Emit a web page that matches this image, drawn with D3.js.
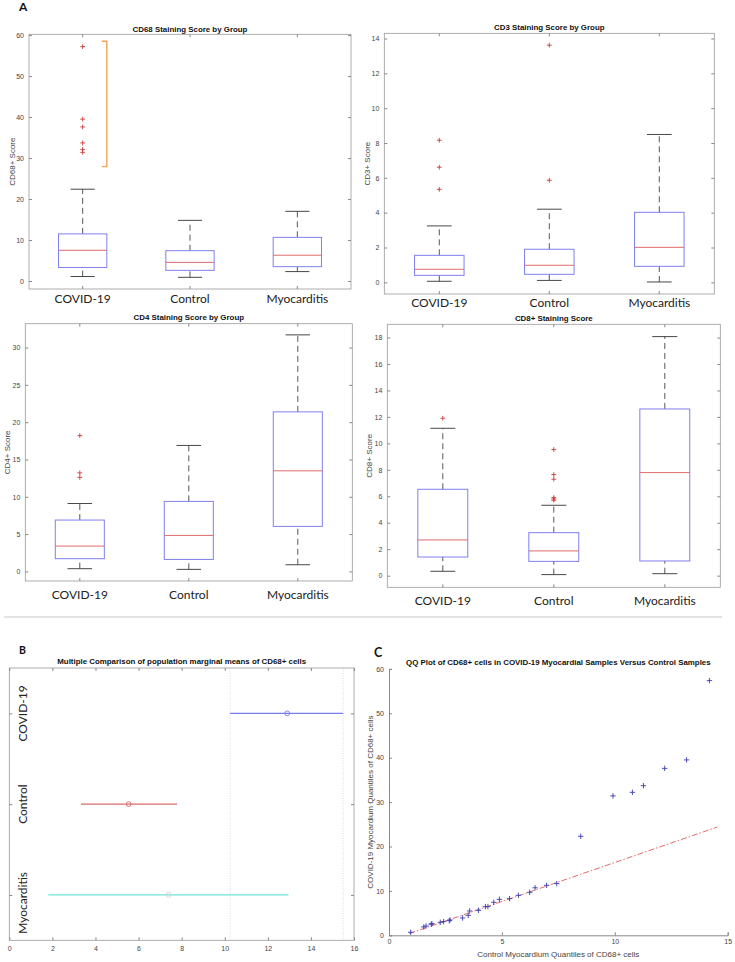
<!DOCTYPE html>
<html>
<head>
<meta charset="utf-8">
<script src="https://cdn.jsdelivr.net/npm/d3@7.9.0/dist/d3.min.js"></script>
<style>
    body { margin: 0; background: #fff; }
    svg { display: block; font-family: "Liberation Sans", Arial, sans-serif; }
    .tick text { fill: #444; font-size: 7px; }
    .tick line, .domain { stroke: #888; }
    .grp .tick text { font-family: Lato, sans-serif; font-size: 12px; fill: #222; }
    .title { font-size: 7.9px; font-weight: bold; fill: #111; }
    .ylab { font-size: 8px; fill: #444; }
    .panel-letter { font-family: Lato, sans-serif; font-weight: bold; fill: #111; }
</style>
</head>
<body>
<svg id="fig" width="735" height="962"></svg>
<script>
const groups = ['COVID-19', 'Control', 'Myocarditis'];

// box stats per group: [lower whisker, q1, median, q3, upper whisker]
const cd68Stats = [[1.1, 3.3, 7.5, 11.5, 22.4], [0.9, 2.6, 4.55, 7.4, 14.8], [2.3, 3.5, 6.3, 10.65, 17.0]];
const cd68Outliers = [[57.2, 39.5, 37.6, 33.7, 32.1, 31.4], [], []];
const cd68Bracket = [27.9, 58.5];

const cd3Stats = [[0.06, 0.4, 0.75, 1.55, 3.24], [0.11, 0.46, 0.98, 1.9, 4.2], [0.02, 0.92, 2.01, 4.02, 8.49]];
const cd3Outliers = [[8.16, 6.61, 5.34], [13.62, 5.86], []];

const cd4Stats = [[0.36, 1.7, 3.39, 6.88, 9.1], [0.27, 1.6, 4.82, 9.38, 16.88], [0.89, 6.03, 13.48, 21.38, 31.7]];
const cd4Outliers = [[18.2, 13.2, 12.6], [], []];

const cd8Stats = [[0.33, 1.41, 2.7, 6.53, 11.14], [0.08, 1.08, 1.87, 3.25, 5.32], [0.15, 1.11, 7.79, 12.6, 18.07]];
const cd8Outliers = [[11.9], [9.53, 7.64, 7.29, 5.9, 5.8, 5.7], []];

// multiple comparison intervals: [low, mean, high], y position 3..1
const mcIntervals = [[10.25, 12.9, 15.5], [3.33, 5.54, 7.79], [1.81, 7.4, 12.96]];
const mcLimits = [10.25, 15.5];
const mcColors = ['#7b7bf0', '#d86a6a', '#6fe3da'];

// QQ plot quantiles
const qqControl = [0.96, 1.54, 1.64, 1.87, 1.9, 2.27, 2.42, 2.67, 2.7, 3.26, 3.51, 3.57, 3.96, 4.27, 4.38, 4.64, 4.89, 5.34, 5.73, 6.23, 6.47, 6.98, 7.43, 8.49, 9.92, 10.78, 11.27, 12.21, 13.18, 14.19];
const qqCovid = [0.68, 1.88, 2.1, 2.48, 2.63, 2.93, 3.08, 3.3, 3.45, 3.9, 4.5, 5.48, 5.63, 6.46, 6.46, 7.43, 8.1, 8.26, 9.0, 9.68, 10.7, 11.26, 11.64, 22.3, 31.4, 32.2, 33.7, 37.6, 39.5, 57.36];
const qqLineX = [0.9, 14.55];
const qqLineY = [0.4, 24.4];

const svg = d3.select('#fig');

function frameAxes(g, x, y, box, xTicks) {
    g.append('rect')
        .attr('x', box.left).attr('y', box.top)
        .attr('width', box.right - box.left).attr('height', box.bottom - box.top)
        .attr('fill', 'none').attr('stroke', '#999').attr('stroke-width', 0.8);

    // ticks point inward on all four sides, MATLAB style
    g.append('g')
        .attr('transform', `translate(${box.left},0)`)
        .call(d3.axisLeft(y).tickValues(xTicks.y).tickSize(-3).tickSizeOuter(0).tickPadding(5))
        .call((s) => s.select('.domain').remove());
    g.append('g')
        .attr('transform', `translate(${box.right},0)`)
        .call(d3.axisRight(y).tickValues(xTicks.y).tickSize(-3).tickSizeOuter(0).tickFormat(''))
        .call((s) => s.select('.domain').remove());
    g.append('g')
        .attr('transform', `translate(0,${box.top})`)
        .call(d3.axisTop(x).tickSize(-3).tickSizeOuter(0).tickFormat('').tickValues(xTicks.x))
        .call((s) => s.select('.domain').remove());
}

function boxPanel(cfg) {
    const { box, yDomain, yTicks, stats, outliers, title, yLabel } = cfg;
    const g = svg.append('g');

    const x = d3.scaleBand().domain(groups).range([box.left, box.right]);
    const y = d3.scaleLinear().domain(yDomain).range([box.bottom, box.top]);
    const bw = x.bandwidth() * 0.45;
    const cx = (d) => x(d) + x.bandwidth() / 2;

    frameAxes(g, x, y, box, { y: yTicks, x: groups });

    // group labels along the bottom
    g.append('g')
        .attr('class', 'grp')
        .attr('transform', `translate(0,${box.bottom})`)
        .call(d3.axisBottom(x).tickSize(-3).tickSizeOuter(0).tickPadding(cfg.labelGap))
        .call((s) => s.select('.domain').remove());

    const rows = groups.map((name, i) => ({ name, s: stats[i], out: outliers[i] }));
    const b = g.append('g').selectAll('g').data(rows).join('g');

    // dashed whiskers
    b.selectAll('line.whisker')
        .data((d) => [[d.name, d.s[3], d.s[4]], [d.name, d.s[0], d.s[1]]])
        .join('line')
        .attr('class', 'whisker')
        .attr('x1', (d) => cx(d[0])).attr('x2', (d) => cx(d[0]))
        .attr('y1', (d) => y(d[1])).attr('y2', (d) => y(d[2]))
        .attr('stroke', '#444').attr('stroke-width', 0.9)
        .attr('stroke-dasharray', '6,4');

    // caps
    b.selectAll('line.cap')
        .data((d) => [[d.name, d.s[0]], [d.name, d.s[4]]])
        .join('line')
        .attr('class', 'cap')
        .attr('x1', (d) => cx(d[0]) - bw / 4).attr('x2', (d) => cx(d[0]) + bw / 4)
        .attr('y1', (d) => y(d[1])).attr('y2', (d) => y(d[1]))
        .attr('stroke', '#333').attr('stroke-width', 0.9);

    b.append('rect')
        .attr('x', (d) => cx(d.name) - bw / 2)
        .attr('y', (d) => y(d.s[3]))
        .attr('width', bw)
        .attr('height', (d) => y(d.s[1]) - y(d.s[3]))
        .attr('fill', 'none').attr('stroke', '#7f7ff0').attr('stroke-width', 1);

    b.append('line')
        .attr('x1', (d) => cx(d.name) - bw / 2).attr('x2', (d) => cx(d.name) + bw / 2)
        .attr('y1', (d) => y(d.s[2])).attr('y2', (d) => y(d.s[2]))
        .attr('stroke', '#e06a6a').attr('stroke-width', 1);

    b.selectAll('path.out')
        .data((d) => d.out.map((v) => [d.name, v]))
        .join('path')
        .attr('class', 'out')
        .attr('transform', (d) => `translate(${cx(d[0])},${y(d[1])})`)
        .attr('d', 'M-2.4,0H2.4M0,-2.4V2.4')
        .attr('stroke', '#cc3b3b').attr('stroke-width', 0.9);

    g.append('text')
        .attr('class', 'title')
        .attr('x', (box.left + box.right) / 2).attr('y', cfg.titleY)
        .attr('text-anchor', 'middle')
        .text(title);

    g.append('text')
        .attr('class', 'ylab')
        .attr('transform', `translate(${cfg.yLabelX},${(box.top + box.bottom) / 2}) rotate(-90)`)
        .attr('text-anchor', 'middle')
        .attr('dy', '0.35em')
        .text(yLabel);

    return { g, x, y, bw, cx };
}

// Panel A
svg.append('text').attr('class', 'panel-letter').attr('x', 19).attr('y', 11).style('font-size', '12px').text('A');

const p68 = boxPanel({
    box: { left: 29, right: 351, top: 34.3, bottom: 289 },
    yDomain: [-1.95, 60.2], yTicks: d3.range(0, 61, 10),
    stats: cd68Stats, outliers: cd68Outliers,
    title: 'CD68 Staining Score by Group', titleY: 31.5,
    yLabel: 'CD68+ Score', yLabelX: 12, labelGap: 5.8,
});

// orange bracket around the COVID-19 outliers
const bx = p68.cx('COVID-19') + p68.bw / 2;
p68.g.append('path')
    .attr('d', `M${bx - 5},${p68.y(cd68Bracket[1])}H${bx}V${p68.y(cd68Bracket[0])}H${bx - 5}`)
    .attr('fill', 'none').attr('stroke', '#f2a25a').attr('stroke-width', 1.4);

boxPanel({
    box: { left: 384.3, right: 714.3, top: 33.3, bottom: 294 },
    yDomain: [-0.67, 14.3], yTicks: d3.range(0, 15, 2),
    stats: cd3Stats, outliers: cd3Outliers,
    title: 'CD3 Staining Score by Group', titleY: 30.2,
    yLabel: 'CD3+ Score', yLabelX: 367, labelGap: 4.8,
});

boxPanel({
    box: { left: 25.3, right: 352.3, top: 323.7, bottom: 581 },
    yDomain: [-1.29, 33.2], yTicks: d3.range(0, 31, 5),
    stats: cd4Stats, outliers: cd4Outliers,
    title: 'CD4 Staining Score by Group', titleY: 319.8,
    yLabel: 'CD4+ Score', yLabelX: 7.5, labelGap: 9.8,
});

boxPanel({
    box: { left: 387.3, right: 720.3, top: 324.3, bottom: 587.3 },
    yDomain: [-0.88, 19.0], yTicks: d3.range(0, 19, 2),
    stats: cd8Stats, outliers: cd8Outliers,
    title: 'CD8+ Staining Score', titleY: 321.2,
    yLabel: 'CD8+ Score', yLabelX: 369, labelGap: 9.2,
});

// separator
svg.append('line')
    .attr('x1', 4).attr('x2', 722).attr('y1', 617).attr('y2', 617)
    .attr('stroke', '#c8c8c8').attr('stroke-width', 1);

// Panel B: multiple comparison
function renderComparison() {
    const box = { left: 9.3, right: 354, top: 668, bottom: 940.3 };
    const g = svg.append('g');
    const x = d3.scaleLinear().domain([0, 16]).range([box.left, box.right]);
    const y = d3.scaleLinear().domain([0.5, 3.5]).range([box.bottom, box.top]);
    const xt = d3.range(0, 17, 2);

    svg.append('text').attr('class', 'panel-letter').attr('x', 19).attr('y', 654).style('font-size', '10.5px').text('B');

    // limits of the selected group's interval
    g.selectAll('line.lim')
        .data(mcLimits)
        .join('line')
        .attr('class', 'lim')
        .attr('x1', (d) => x(d)).attr('x2', (d) => x(d))
        .attr('y1', box.top).attr('y2', box.bottom)
        .attr('stroke', '#cfd3e6').attr('stroke-width', 0.8)
        .attr('stroke-dasharray', '1,1.5');

    g.append('rect')
        .attr('x', box.left).attr('y', box.top)
        .attr('width', box.right - box.left).attr('height', box.bottom - box.top)
        .attr('fill', 'none').attr('stroke', '#999').attr('stroke-width', 0.8);

    g.append('g')
        .attr('transform', `translate(0,${box.bottom})`)
        .call(d3.axisBottom(x).tickValues(xt).tickFormat(d3.format('d')).tickSize(-3).tickSizeOuter(0).tickPadding(5.8))
        .call((s) => s.select('.domain').remove());
    g.append('g')
        .attr('transform', `translate(0,${box.top})`)
        .call(d3.axisTop(x).tickValues(xt).tickFormat('').tickSize(-3).tickSizeOuter(0))
        .call((s) => s.select('.domain').remove());
    g.append('g')
        .attr('transform', `translate(${box.left},0)`)
        .call(d3.axisLeft(y).tickValues([1, 2, 3]).tickFormat('').tickSize(-3).tickSizeOuter(0))
        .call((s) => s.select('.domain').remove());
    g.append('g')
        .attr('transform', `translate(${box.right},0)`)
        .call(d3.axisRight(y).tickValues([1, 2, 3]).tickFormat('').tickSize(-3).tickSizeOuter(0))
        .call((s) => s.select('.domain').remove());

    const rows = mcIntervals.map((d, i) => ({ name: groups[i], pos: 3 - i, lo: d[0], mean: d[1], hi: d[2], color: mcColors[i] }));

    g.selectAll('line.ci')
        .data(rows)
        .join('line')
        .attr('class', 'ci')
        .attr('x1', (d) => x(d.lo)).attr('x2', (d) => x(d.hi))
        .attr('y1', (d) => y(d.pos)).attr('y2', (d) => y(d.pos))
        .attr('stroke', (d) => d.color).attr('stroke-width', 1.2);

    g.selectAll('circle')
        .data(rows)
        .join('circle')
        .attr('cx', (d) => x(d.mean)).attr('cy', (d) => y(d.pos))
        .attr('r', 2.4)
        .attr('fill', 'none')
        .attr('stroke', (d, i) => (i === 2 ? '#c9d6d6' : d.color))
        .attr('stroke-width', 0.9);

    g.selectAll('text.grp')
        .data(rows)
        .join('text')
        .attr('class', 'grp')
        .attr('transform', (d, i) => `translate(23,${y(d.pos) + (i === 2 ? 8 : 0)}) rotate(-90)`)
        .attr('text-anchor', 'middle')
        .attr('dy', '0.35em')
        .style('font-family', 'Lato, sans-serif')
        .style('font-size', '12px')
        .attr('fill', '#222')
        .text((d) => d.name);

    g.append('text')
        .attr('class', 'title')
        .attr('x', (box.left + box.right) / 2).attr('y', 664.3)
        .attr('text-anchor', 'middle')
        .text('Multiple Comparison of population marginal means of CD68+ cells');
}

// Panel C: QQ plot
function renderQQ() {
    const box = { left: 389, right: 727.7, top: 668.9, bottom: 935.3 };
    const g = svg.append('g');
    const x = d3.scaleLinear().domain([0, 15]).range([box.left, box.right]);
    const y = d3.scaleLinear().domain([0, 60]).range([box.bottom, box.top]);

    svg.append('text').attr('class', 'panel-letter').attr('x', 374).attr('y', 657).style('font-size', '12.5px').text('C');

    g.append('g')
        .attr('transform', `translate(0,${box.bottom})`)
        .call(d3.axisBottom(x).tickValues([0, 5, 10, 15]).tickSize(-3).tickSizeOuter(-3).tickPadding(4));
    g.append('g')
        .attr('transform', `translate(${box.left},0)`)
        .call(d3.axisLeft(y).tickValues(d3.range(0, 61, 10)).tickSize(-3).tickSizeOuter(-3).tickPadding(5));

    const line = d3.line().x((d) => x(d[0])).y((d) => y(d[1]));
    g.append('path')
        .datum(d3.zip(qqLineX, qqLineY))
        .attr('d', line)
        .attr('fill', 'none')
        .attr('stroke', '#e05a5a').attr('stroke-width', 0.9)
        .attr('stroke-dasharray', '6,2,1.5,2');

    g.selectAll('path.pt')
        .data(d3.zip(qqControl, qqCovid))
        .join('path')
        .attr('class', 'pt')
        .attr('transform', (d) => `translate(${x(d[0])},${y(d[1])})`)
        .attr('d', 'M-2.7,0H2.7M0,-2.7V2.7')
        .attr('stroke', '#3b3bb0').attr('stroke-width', 0.9);

    g.append('text')
        .attr('class', 'title')
        .attr('x', (box.left + box.right) / 2).attr('y', 665.3)
        .attr('text-anchor', 'middle')
        .text('QQ Plot of CD68+ cells in COVID-19 Myocardial Samples Versus Control Samples');

    g.append('text')
        .attr('class', 'ylab')
        .attr('x', (box.left + box.right) / 2).attr('y', 956.7)
        .attr('text-anchor', 'middle')
        .text('Control Myocardium Quantiles of CD68+ cells');

    g.append('text')
        .attr('class', 'ylab')
        .attr('transform', `translate(370,${(box.top + box.bottom) / 2}) rotate(-90)`)
        .attr('text-anchor', 'middle')
        .attr('dy', '0.35em')
        .text('COVID-19 Myocardium Quantiles of CD68+ cells');
}

renderComparison();
renderQQ();
</script>
</body>
</html>
